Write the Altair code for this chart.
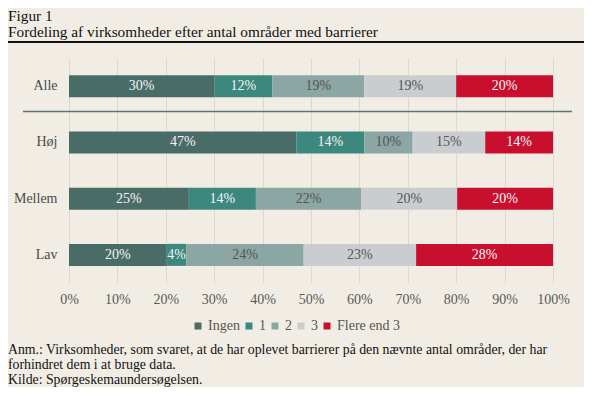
import altair as alt
import pandas as pd

categories = ["Alle", "Høj", "Mellem", "Lav"]
series = ["Ingen", "1", "2", "3", "Flere end 3"]
values = {
    "Alle":   [30, 12, 19, 19, 20],
    "Høj":    [47, 14, 10, 15, 14],
    "Mellem": [25, 14, 22, 20, 20],
    "Lav":    [20, 4, 24, 23, 28],
}
colors = ["#4a6c67", "#3d887e", "#8ba6a3", "#cacdd0", "#c8102e"]
text_colors = ["#f4f4f4", "#f4f4f4", "#555555", "#555555", "#f8f8f8"]
tick_values = [0, 0.1, 0.2, 0.3, 0.4, 0.5, 0.6, 0.7, 0.8, 0.9, 1.0]

title_lines = ["Figur 1", "Fordeling af virksomheder efter antal områder med barrierer"]
notes = [
    "Anm.: Virksomheder, som svaret, at de har oplevet barrierer på den nævnte antal områder, der har",
    "forhindret dem i at bruge data.",
    "Kilde: Spørgeskemaundersøgelsen.",
]

rows = []
for c in categories:
    for i, s in enumerate(series):
        rows.append({"cat": c, "series": s, "order": i, "value": values[c][i],
                     "tcolor": text_colors[i]})
df = pd.DataFrame(rows)

FONT = "Liberation Serif"
W, H = 484, 225

base = alt.Chart(df).transform_stack(
    stack="value", groupby=["cat"], as_=["x0", "x1"], offset="normalize",
    sort=[alt.SortField("order", order="ascending")]
).transform_calculate(
    mid="(datum.x0 + datum.x1) / 2",
    label="datum.value + '%'"
)

yenc = alt.Y("cat:N", sort=categories, title=None,
             scale=alt.Scale(paddingInner=0.61, paddingOuter=0.305),
             axis=alt.Axis(labelFont=FONT, labelFontSize=14, labelColor="#4a4a4a",
                           labelPadding=12, ticks=False, domain=False, grid=False))

bars = base.mark_bar(height=22).encode(
    x=alt.X("x0:Q", title=None,
            scale=alt.Scale(domain=[0, 1], nice=False, zero=True),
            axis=alt.Axis(values=tick_values, format=".0%", labelFont=FONT,
                          labelFontSize=14, labelColor="#595959", labelPadding=9,
                          labelFlush=False,
                          ticks=False, domain=False, grid=True, gridColor="#dcd8cf",
                          gridWidth=1)),
    x2="x1:Q",
    y=yenc,
    color=alt.Color("series:N", sort=series,
                    scale=alt.Scale(domain=series, range=colors),
                    legend=alt.Legend(title=None, orient="none", direction="horizontal",
                                      legendX=122, legendY=261, symbolType="square",
                                      symbolSize=49, symbolStrokeWidth=0,
                                      labelFont=FONT, labelFontSize=14,
                                      labelColor="#555555", columnPadding=2,
                                      labelOffset=3)),
)

labels = base.mark_text(font=FONT, fontSize=14).encode(
    x="mid:Q",
    y=alt.Y("cat:N", sort=categories),
    text="label:N",
    color=alt.Color("tcolor:N", scale=None),
)

sep = alt.Chart(pd.DataFrame({"k": [0]})).mark_rule(color="#5e7473", strokeWidth=1.5).encode(
    x=alt.value(-46), x2=alt.value(503), y=alt.value(53.5)
)

tl = pd.DataFrame({"t": title_lines, "y": [-37, -21]})
titles = alt.Chart(tl).mark_text(font=FONT, fontSize=15.3, align="left",
                                 baseline="alphabetic", color="#111111").encode(
    x=alt.value(-61), y=alt.Y("y:Q", scale=None), text="t:N"
)

titleline = alt.Chart(pd.DataFrame({"k": [0]})).mark_rule(color="#111111", strokeWidth=2).encode(
    x=alt.value(-61), x2=alt.value(515), y=alt.value(-16)
)

nl = pd.DataFrame({"t": notes, "y": [296, 311, 326]})
notes_layer = alt.Chart(nl).mark_text(font=FONT, fontSize=13.8, align="left",
                                      baseline="alphabetic", color="#111111").encode(
    x=alt.value(-61), y=alt.Y("y:Q", scale=None), text="t:N"
)

chart = alt.layer(bars, labels, sep, titles, titleline, notes_layer).properties(
    width=W, height=H,
    padding={"left": 61, "top": 50, "right": 31, "bottom": 104},
    autosize=alt.AutoSizeParams(type="none"),
    background="#f1ede4",
).configure_view(stroke=None)

chart.save("out.html", embed_options={"renderer": "svg", "actions": False})
